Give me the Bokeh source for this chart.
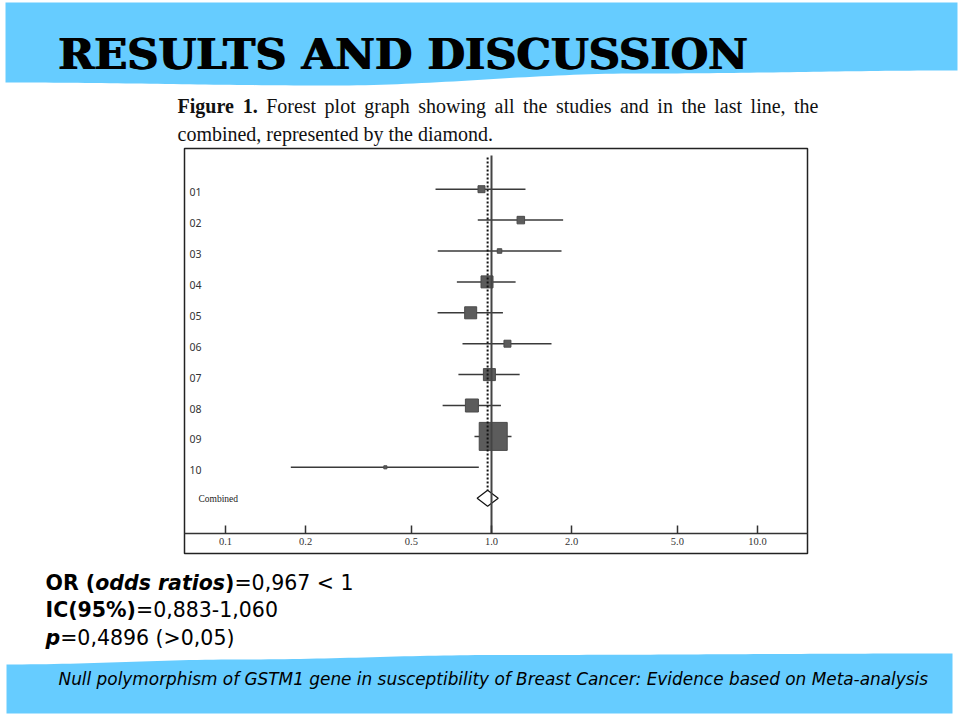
import numpy as np
from bokeh.plotting import figure
from bokeh.models import (Range1d, LogScale, LogAxis, FixedTicker,
                          PrintfTickFormatter, ColumnDataSource)
from bokeh.core.properties import value
from bokeh.embed import file_html
from bokeh.resources import INLINE

# ---------------- data ----------------
studies = ["01", "02", "03", "04", "05", "06", "07", "08", "09", "10"]
odds_ratio = [0.917, 1.289, 1.072, 0.962, 0.835, 1.148, 0.982, 0.844, 1.015, 0.399]
ci_lower = [0.616, 0.888, 0.628, 0.741, 0.627, 0.778, 0.751, 0.655, 0.863, 0.176]
ci_upper = [1.342, 1.859, 1.833, 1.232, 1.104, 1.681, 1.276, 1.085, 1.189, 0.896]
weights = [3.1, 3.6, 1.3, 9.2, 9.2, 3.1, 9.2, 10.8, 50.0, 0.6]
combined_label = "Combined"
combined_or = 0.967
combined_lower = 0.883
combined_upper = 1.060
null_value = 1.0
tick_values = [0.1, 0.2, 0.5, 1.0, 2.0, 5.0, 10.0]

title_text = "RESULTS AND DISCUSSION"
caption_line1 = [("Figure", True), ("1.", True), ("Forest", False), ("plot", False),
                 ("graph", False), ("showing", False), ("all", False), ("the", False),
                 ("studies", False), ("and", False), ("in", False), ("the", False),
                 ("last", False), ("line,", False), ("the", False)]
caption_line2 = "combined, represented by the diamond."
stats_lines = [
    [("OR (", "bold"), ("odds ratios", "bold italic"), (")", "bold"), ("=0,967 < 1", "normal")],
    [("IC(95%)", "bold"), ("=0,883-1,060", "normal")],
    [("p", "bold italic"), ("=0,4896 (>0,05)", "normal")],
]
footer_text = ("Null polymorphism of GSTM1 gene in susceptibility of Breast Cancer: "
               "Evidence based on Meta-analysis")

# ---------------- layout / style constants ----------------
W, H = 960, 716
BLUE = "#66CCFF"
PX_TICK01 = 225.0      # pixel x of OR = 0.1
PX_PER_DEC = 266.0     # pixels per decade
ROW1_Y = 188.7         # pixel y of first study row
ROW_H = 30.9           # pixels per row
BOX_L, BOX_T, BOX_R, BOX_B = 184, 148, 807, 553
AXIS_Y = 533


def px_to_or(px):
    return 10 ** (-1 + (px - PX_TICK01) / PX_PER_DEC)


def py_to_row(py):
    return 1 + (py - ROW1_Y) / ROW_H


p = figure(width=W, height=H, x_range=Range1d(0, W), y_range=Range1d(H, 0),
           min_border=0, x_axis_location=None, y_axis_location=None,
           toolbar_location=None, output_backend="svg", outline_line_color=None,
           background_fill_color="white", border_fill_color="white")
p.grid.visible = False

p.extra_x_ranges = {"log": Range1d(px_to_or(0), px_to_or(W))}
p.extra_x_scales = {"log": LogScale()}
p.extra_y_ranges = {"rows": Range1d(py_to_row(H), py_to_row(0))}


# ---------------- blue bands ----------------
def cos_interp(x, ax, ay):
    x = np.asarray(x, dtype=float)
    out = np.empty_like(x)
    for k, xv in enumerate(x):
        i = min(max(np.searchsorted(ax, xv) - 1, 0), len(ax) - 2)
        t = (xv - ax[i]) / (ax[i + 1] - ax[i])
        s = (1 - np.cos(np.pi * t)) / 2
        out[k] = ay[i] + (ay[i + 1] - ay[i]) * s
    return out


tx = np.linspace(5, 957, 120)
ty = cos_interp(tx, [5, 330, 640, 957], [82, 85, 73, 70])
p.patch(list(tx) + [957, 5], list(ty) + [2, 2], fill_color=BLUE, line_color=None)

bx = np.linspace(6, 952, 120)
by = cos_interp(bx, [6, 240, 500, 952], [664, 659, 654.5, 653])
p.patch(list(bx) + [952, 6], list(by) + [713, 713], fill_color=BLUE, line_color=None)

# ---------------- title & caption ----------------
for dx in (0, 1.4):
    p.text(x=[57], y=[52.5], text=[title_text], text_font=value("DejaVu Serif"),
           text_font_style="bold", text_font_size="43.3px", text_color="#000000",
           text_baseline="middle", x_offset=dx)

# Times-like advance widths (em) for rough justification
TW = dict(a=.444, b=.5, c=.444, d=.5, e=.444, f=.333, g=.5, h=.5, i=.278, j=.278,
          k=.5, l=.278, m=.778, n=.5, o=.5, p=.5, q=.5, r=.333, s=.389, t=.278,
          u=.5, v=.5, w=.722, x=.5, y=.5, z=.444, F=.556)
TWB = dict(TW, F=.611, u=.556, r=.444)


def times_w(s, bold, size):
    tab = TWB if bold else TW
    return sum(tab.get(ch, .5 if ch.isdigit() else .25) for ch in s) * size


CAP_SIZE = 20
cap_left, cap_right = 177, 818
natural = sum(times_w(w_, b_, CAP_SIZE) for w_, b_ in caption_line1)
gap = (cap_right - cap_left - natural) / (len(caption_line1) - 1)
xs_c, cur = [], cap_left
for w_, b_ in caption_line1:
    xs_c.append(cur)
    cur += times_w(w_, b_, CAP_SIZE) + gap
for (w_, b_), xc in zip(caption_line1, xs_c):
    p.text(x=[xc], y=[105.5], text=[w_], text_font=value("Liberation Serif"),
           text_font_style="bold" if b_ else "normal",
           text_font_size=f"{CAP_SIZE}px", text_color="#111111",
           text_baseline="middle")
p.text(x=[cap_left], y=[133.5], text=[caption_line2], text_font=value("Liberation Serif"),
       text_font_size=f"{CAP_SIZE}px", text_color="#111111", text_baseline="middle")

# ---------------- forest plot ----------------
p.quad(left=[BOX_L], right=[BOX_R], top=[BOX_T], bottom=[BOX_B],
       fill_color=None, line_color="#222222", line_width=1.5)

rows = list(range(1, len(studies) + 1))
src = ColumnDataSource(dict(study=studies, orv=odds_ratio, lo=ci_lower, hi=ci_upper,
                            row=rows, size=[3.96 * np.sqrt(w) for w in weights]))
p.segment(x0="lo", x1="hi", y0="row", y1="row", source=src, x_range_name="log",
          y_range_name="rows", line_color="#3a3a3a", line_width=1.5)
p.scatter(x="orv", y="row", size="size", marker="square", source=src,
          x_range_name="log", y_range_name="rows", fill_color="#5c5c5c",
          line_color="#4a4a4a", line_width=1)

comb_row = len(studies) + 1
dh = 8 / ROW_H
p.patch([combined_lower, combined_or, combined_upper, combined_or],
        [comb_row, comb_row - dh, comb_row, comb_row + dh],
        x_range_name="log", y_range_name="rows", fill_color="white",
        line_color="#111111", line_width=1.2)

p.segment(x0=[null_value], x1=[null_value], y0=[py_to_row(155)], y1=[py_to_row(AXIS_Y)],
          x_range_name="log", y_range_name="rows", line_color="#444444", line_width=2)
p.segment(x0=[combined_or], x1=[combined_or], y0=[py_to_row(157)], y1=[comb_row - dh],
          x_range_name="log", y_range_name="rows", line_color="#111111",
          line_width=2, line_dash="2 2")

p.text(x=[189] * len(studies), y=rows, text=studies, y_range_name="rows",
       text_font=value("Noto Sans"), text_font_size="10.5px", text_color="#333333",
       text_baseline="middle", y_offset=3)
p.text(x=[198], y=[comb_row], text=[combined_label], y_range_name="rows",
       text_font=value("Liberation Serif"), text_font_size="9.5px",
       text_color="#222222", text_baseline="middle", y_offset=1)

ax = LogAxis(x_range_name="log", fixed_location=AXIS_Y,
             ticker=FixedTicker(ticks=tick_values),
             formatter=PrintfTickFormatter(format="%.1f"),
             bounds=(px_to_or(BOX_L), px_to_or(BOX_R)),
             major_tick_in=8, major_tick_out=0, minor_tick_in=0, minor_tick_out=0,
             axis_line_color="#333333", axis_line_width=1.5,
             major_tick_line_color="#333333", major_tick_line_width=1.5,
             major_label_text_font="Liberation Serif",
             major_label_text_font_size="10.5px", major_label_standoff=4,
             major_label_text_color="#333333")
p.add_layout(ax, "below")

# ---------------- statistics text ----------------
DV = {' ': .318, '(': .390, ')': .390, '=': .838, ',': .318, '-': .361, '<': .838,
      '>': .838, '%': .950, 'O': .787, 'R': .695, 'I': .295, 'C': .698, 'a': .613,
      'd': .635, 'o': .612, 's': .521, 'r': .411, 't': .392, 'i': .278, 'p': .635}
DVB = {' ': .348, '(': .457, ')': .457, '=': .838, '%': 1.002, 'O': .850, 'R': .770,
       'I': .372, 'C': .734, 'a': .675, 'd': .716, 'o': .687, 's': .595, 'r': .493,
       't': .478, 'i': .343, 'p': .716}


def dv_w(s, style, size):
    bold = "bold" in style
    tab = DVB if bold else DV
    dig = .696 if bold else .636
    return sum(tab.get(ch, dig if ch.isdigit() else .6) for ch in s) * size


ST_SIZE = 20.5
for line, mid in zip(stats_lines, [582, 609.5, 637]):
    cur = 45
    for seg, style in line:
        p.text(x=[cur], y=[mid], text=[seg], text_font=value("DejaVu Sans"),
               text_font_style=style, text_font_size=f"{ST_SIZE}px",
               text_color="#000000", text_baseline="middle")
        cur += dv_w(seg, style, ST_SIZE)

# ---------------- footer ----------------
p.text(x=[58], y=[678], text=[footer_text], text_font=value("DejaVu Sans"),
       text_font_style="italic", text_font_size="16.9px", text_color="#000000",
       text_baseline="middle")

open("out.html", "w").write(file_html(p, INLINE))
